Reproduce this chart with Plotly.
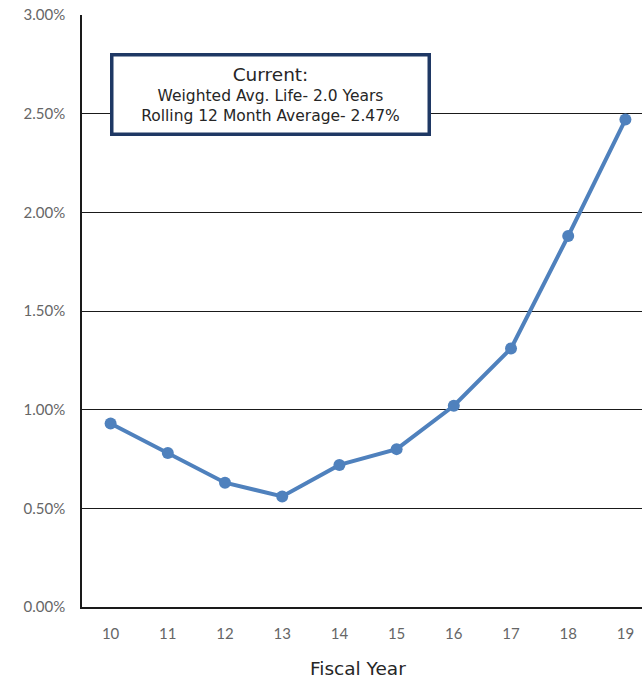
import plotly.graph_objects as go

years = ["10", "11", "12", "13", "14", "15", "16", "17", "18", "19"]
rates = [0.93, 0.78, 0.63, 0.56, 0.72, 0.80, 1.02, 1.31, 1.88, 2.47]
y_ticks = [0, 0.5, 1.0, 1.5, 2.0, 2.5, 3.0]
y_tick_labels = ["0.00%", "0.50%", "1.00%", "1.50%", "2.00%", "2.50%", "3.00%"]

FONT = "Lato, Open Sans, sans-serif"
BOX_FONT = "DejaVu Sans, sans-serif"

fig = go.Figure()
fig.add_trace(go.Scatter(
    x=list(range(len(years))), y=rates, mode="lines+markers",
    line=dict(color="#4F81BD", width=4),
    marker=dict(color="#4F81BD", size=12),
    showlegend=False, cliponaxis=False,
))

fig.update_layout(
    width=642, height=681,
    margin=dict(l=82, r=0, t=15, b=74),
    paper_bgcolor="white", plot_bgcolor="white",
    font=dict(family=FONT, color="#595959", size=14),
    xaxis=dict(
        range=[-0.5, 9.29],
        tickmode="array", tickvals=list(range(len(years))), ticktext=years,
        showgrid=False, zeroline=False,
        showline=True, linecolor="#1a1a1a", linewidth=2,
        ticks="", ticklabelstandoff=12,
        tickfont=dict(size=15, color="#666666"),
    ),
    yaxis=dict(
        range=[0, 3.0],
        tickmode="array", tickvals=y_ticks, ticktext=y_tick_labels,
        showgrid=True, gridcolor="#1a1a1a", gridwidth=1.3,
        zeroline=False,
        showline=True, linecolor="#1a1a1a", linewidth=1.5,
        ticks="", ticklabelstandoff=12,
        tickfont=dict(size=15, color="#666666"),
    ),
    annotations=[
        dict(
            xref="paper", yref="paper", x=(270 - 82) / 560, y=(607 - 95) / 592,
            xanchor="center", yanchor="middle",
            text="<span style='font-size:18.5px'>Current:</span><br>Weighted Avg. Life- 2.0 Years<br>Rolling 12 Month Average- 2.47%",
            showarrow=False, align="center",
            font=dict(family=BOX_FONT, size=15.5, color="#262626"),
            bgcolor="white", bordercolor="#1F3864", borderwidth=3.5,
            width=312, height=74,
        ),
        dict(
            xref="paper", yref="paper", x=(358 - 82) / 560, y=(607 - 668) / 592,
            xanchor="center", yanchor="middle",
            text="Fiscal Year", showarrow=False,
            font=dict(family=BOX_FONT, size=18.5, color="#262626"),
        ),
    ],
)

fig.write_html("out.html")
